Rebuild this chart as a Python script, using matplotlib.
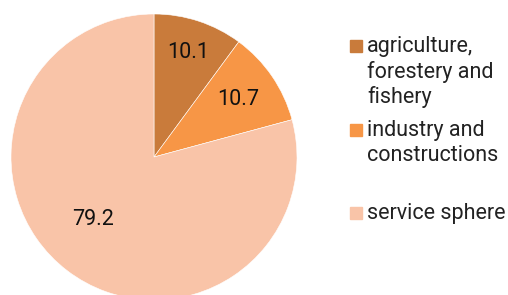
import numpy as np
import matplotlib.pyplot as plt
from matplotlib.patches import Rectangle

plt.rcParams['font.family'] = ['Roboto', 'DejaVu Sans']

# data
sectors = ["agriculture,\nforestery and\nfishery", "industry and\nconstructions", "service sphere"]
shares = [10.1, 10.7, 79.2]
colors = ["#C97B3B", "#F79646", "#F9C4A8"]
label_r = [0.77, 0.71, 0.61]
label_shift = [0, 0, -7]  # degrees, nudges label around the centre

W, H = 508, 295
fig = plt.figure(figsize=(W / 100, H / 100), dpi=100)

# pie centre (154,157) px, radius 143 px
cx, cy, r = 154, 157, 143
ax = fig.add_axes([(cx - r) / W, (H - cy - r) / H, 2 * r / W, 2 * r / H])
wedges, _ = ax.pie(shares, colors=colors, startangle=90, counterclock=False,
                   wedgeprops=dict(edgecolor="white", linewidth=0.4))
ax.set_xlim(-1, 1)
ax.set_ylim(-1, 1)
ax.set_aspect("equal")

for w, v, lr, sh in zip(wedges, shares, label_r, label_shift):
    ang = np.deg2rad((w.theta1 + w.theta2) / 2 + sh)
    ax.text(lr * np.cos(ang), lr * np.sin(ang), f"{v}", ha="center", va="center",
            fontsize=15.5, color="#111111")

# legend (manual, google-charts style)
box_tops = [40, 124, 207]
for lab, col, yt in zip(sectors, colors, box_tops):
    fig.patches.append(Rectangle((350 / W, 1 - (yt + 12) / H), 12 / W, 12 / H,
                                 transform=fig.transFigure, color=col))
    fig.text(367 / W, 1 - (yt - 4) / H, lab, ha="left", va="top", fontsize=15.5,
             color="#222222", linespacing=1.22)

fig.savefig("out.png", dpi=100)
